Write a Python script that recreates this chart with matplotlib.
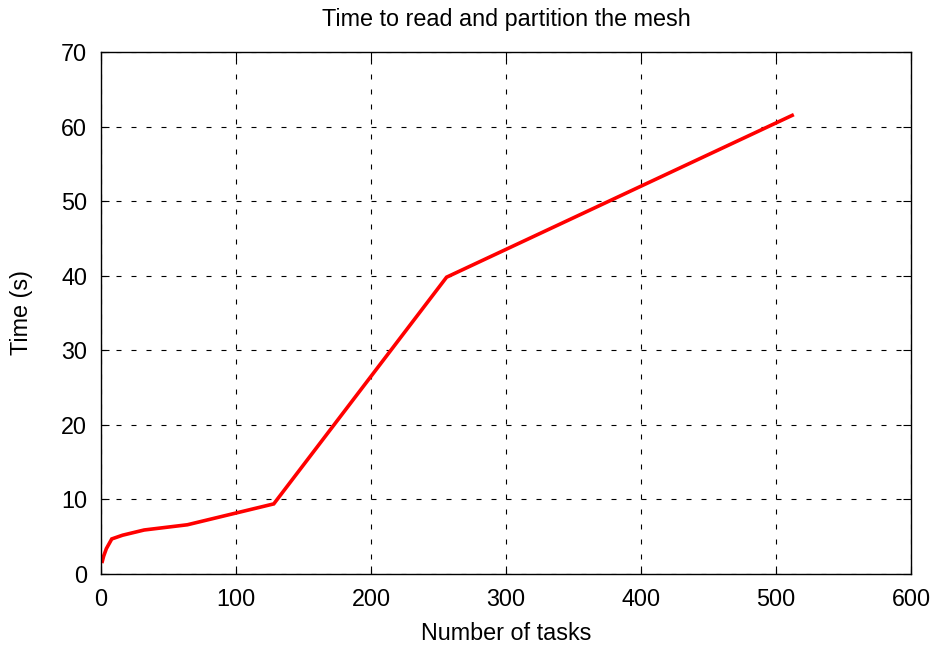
import matplotlib
matplotlib.use("Agg")
import matplotlib.pyplot as plt

# number of tasks vs time (s) to read and partition the mesh
tasks = [1, 2, 4, 8, 16, 32, 64, 128, 256, 512]
times = [1.7, 2.4, 3.4, 4.7, 5.2, 5.9, 6.6, 9.4, 39.8, 61.5]

plt.rcParams['font.family'] = ['Liberation Sans', 'DejaVu Sans']
plt.rcParams['lines.scale_dashes'] = False

fig = plt.figure(figsize=(9.41, 6.45), dpi=100)
ax = fig.add_axes([0.1073, 0.1101, 0.8608, 0.8093])

ax.plot(tasks, times, color='#ff0000', linewidth=2.6, solid_joinstyle='miter')

ax.set_xlim(0, 600)
ax.set_ylim(0, 70)
ax.set_xticks(range(0, 601, 100))
ax.set_yticks(range(0, 71, 10))
ax.grid(True, color='black', linestyle=(0, (3.6, 7.2)), linewidth=0.8)
ax.tick_params(direction='in', top=True, right=True, length=6, width=0.8,
               labelsize=16.8, pad=10)
for s in ax.spines.values():
    s.set_linewidth(1.0)

ax.set_xlabel('Number of tasks', fontsize=16.8, labelpad=8)
ax.set_ylabel('Time (s)', fontsize=16.8, labelpad=20)
ax.set_title('Time to read and partition the mesh', fontsize=16.8, pad=19)

fig.savefig('out.png', dpi=100)
